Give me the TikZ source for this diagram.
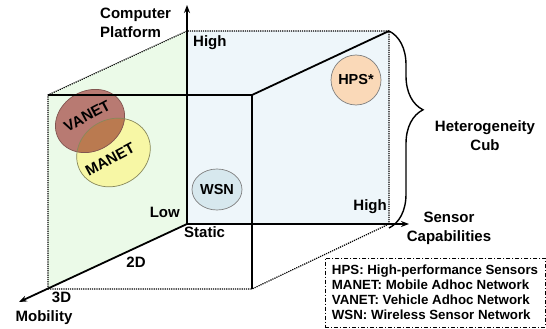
\documentclass[tikz,border=0pt]{standalone}
\usepackage{fontspec}
\setmainfont{Liberation Sans}
\usepackage{tikz}
\usetikzlibrary{arrows.meta,positioning,shapes.geometric,decorations.pathreplacing}
\definecolor{gface}{HTML}{EBFAE8}
\definecolor{bface}{HTML}{EEF6FA}
\definecolor{vanc}{HTML}{B87A72}
\definecolor{manc}{HTML}{F7F7A5}
\definecolor{ovl}{HTML}{BA7A50}
\definecolor{wsnc}{HTML}{D7E8EE}
\definecolor{hpsc}{HTML}{FAD9B8}
\definecolor{rim}{HTML}{7F7F7F}
\tikzset{
  lbl/.style={font=\fontsize{15}{19}\selectfont\bfseries,inner sep=0pt,align=center},
  edge/.style={line width=1.8pt},
  hid/.style={dash pattern=on 1.2pt off 1pt,line width=1.2pt},
  ax/.style={edge,-{Stealth[length=8pt,width=6pt]}},
  blob/.style={draw=rim,line width=0.7pt},
  brc/.style={decorate,decoration={brace,amplitude=34pt,aspect=0.4},line width=1.4pt},
}
\begin{document}
\begin{tikzpicture}[x=1pt,y=-1pt,every node/.style={lbl}]
  \useasboundingbox (0,0) rectangle (546,329);
  \coordinate (O) at (187,224);
  \coordinate (T) at (187,31);
  \coordinate (TR) at (389,31);
  \coordinate (BR) at (389,224);
  \coordinate (FTL) at (48,95);
  \coordinate (FTR) at (252,95);
  \coordinate (FBL) at (48,289);
  \coordinate (FBR) at (252,289);
  \coordinate (zT) at (187,5);
  \coordinate (xT) at (409,224);
  \coordinate (yT) at (19,302);
  \coordinate (bb) at (389,228);
  \fill[gface] (FTL) -- (T) -- (O) -- (FBL) -- cycle;
  \fill[bface] (T) -- (TR) -- (BR) -- (O) -- cycle;
  \draw[hid] (FBL) -- (FTL) -- (T) -- (TR) -- (BR);
  \draw[hid] (FBL) -- (FBR) -- (BR);
  \fill[manc] (113.5,152.5) ellipse [x radius=38,y radius=33,rotate=30];
  \fill[vanc] (90,121) ellipse [x radius=36,y radius=30,rotate=30];
  \begin{scope}
    \clip (90,121) ellipse [x radius=36,y radius=30,rotate=30];
    \fill[ovl] (113.5,152.5) ellipse [x radius=38,y radius=33,rotate=30];
  \end{scope}
  \draw[blob,draw=vanc!70!black] (90,121) ellipse [x radius=36,y radius=30,rotate=30];
  \draw[blob,draw=manc!55!black] (113.5,152.5) ellipse [x radius=38,y radius=33,rotate=30];
  \node[rotate=28] (van) at (87,116) {VANET};
  \node[rotate=28] (man) at (110,159) {MANET};
  \draw[edge] (FTL) -- (FTR) -- (TR);
  \draw[edge] (FTR) -- (FBR);
  \draw[ax] (O) -- (zT);
  \draw[ax] (O) -- (xT);
  \draw[ax] (O) -- (yT);
  \draw[brc] (TR) -- (bb);
  \node[ellipse,blob,fill=wsnc,minimum width=50,minimum height=41,font=\fontsize{14.5}{17}\selectfont\bfseries] (wsn) at (217,189.5) {WSN};
  \node[circle,blob,fill=hpsc,minimum size=50,font=\fontsize{14.5}{17}\selectfont\bfseries] (hps) at (356,80) {HPS*};
  \node[anchor=north west,align=left] (cp) at (100,8) {Computer\\Platform};
  \node[anchor=west] (hi) at (193,43) {High};
  \node[anchor=east] (lo) at (180,212) {Low};
  \node[anchor=west] (st) at (184,232) {Static};
  \node (d2) at (136,262) {2D};
  \node (d3) at (61.5,297) {3D};
  \node (mob) at (44,318) {Mobility};
  \node[anchor=east] (hs) at (387,207) {High};
  \node (sc) at (449,228) {Sensor\\Capabilities};
  \node (hc) at (485,136) {Heterogeneity\\Cub};
  \node[draw,line width=0.8pt,dash pattern=on 4pt off 2pt on 1pt off 2pt,fill=white,
        minimum width=220,minimum height=69,inner xsep=7pt,align=left,
        font=\fontsize{13.3}{15}\selectfont\bfseries] (leg) at (435,292.5)
    {HPS: High-performance Sensors\\MANET: Mobile Adhoc Network\\VANET: Vehicle Adhoc Network\\WSN: Wireless Sensor Network};
\end{tikzpicture}
\end{document}
